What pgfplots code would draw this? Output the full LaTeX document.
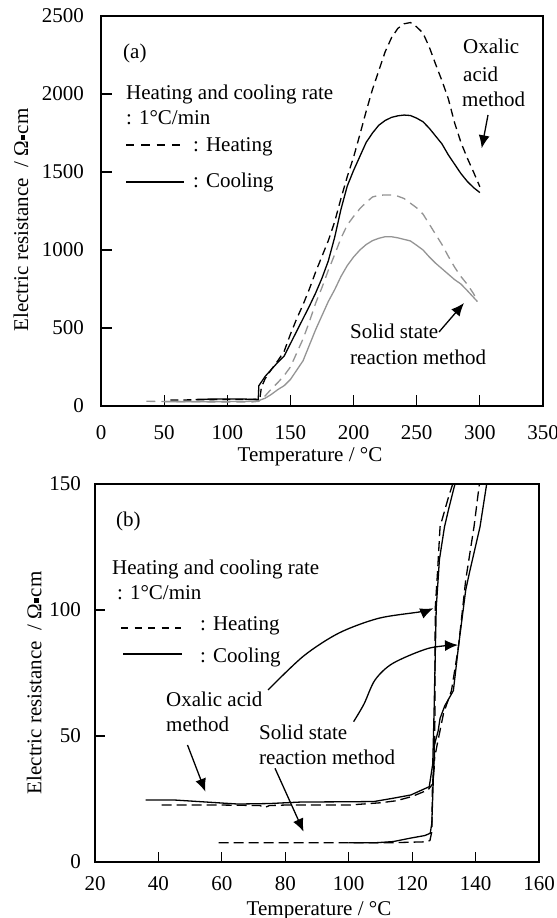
\documentclass[border=0pt]{standalone}
\usepackage{fontspec}
\setmainfont{Liberation Serif}
\usepackage{pgfplots}
\pgfplotsset{compat=1.18}
\usetikzlibrary{arrows.meta}

\definecolor{curvegray}{gray}{0.58}

\pgfplotsset{
  panel/.style={
    scale only axis,
    anchor=south west,
    axis line style={line width=1.2bp},
    tick style={line width=1.1bp, black},
    tick align=inside,
    tick pos=left,
    /pgf/number format/assume math mode=true,
    /pgf/number format/1000 sep={},
    yticklabel style={anchor=east, inner sep=0pt},
    xticklabel style={anchor=base, inner sep=0pt},
  },
  heat/.style={line width=1.3bp, dash pattern=on 8bp off 5bp},
  cool/.style={line width=1.3bp},
}

\newcommand{\ohmcm}{Ω\hspace{0.05em}\raisebox{0.28ex}{\rule{0.22em}{0.22em}}\hspace{0.05em}cm}
\newcommand{\ylab}{Electric resistance \ / \ohmcm}
\tikzset{
  note/.style={anchor=base west, inner sep=0pt},
  pointer/.style={line width=1.3bp, -{Latex[length=13bp,width=11bp]}},
}

\begin{document}
\fontsize{21bp}{25bp}\selectfont
\begin{tikzpicture}
\useasboundingbox (0,0) rectangle (557bp,918bp);

% ---------- (a) ----------
\begin{axis}[panel,
  at={(101bp,512bp)}, width=442bp, height=390bp,
  xmin=0, xmax=350, ymin=0, ymax=2500,
  xtick={0,50,...,350}, ytick={0,500,...,2500},
  major tick length=11bp,
  xticklabel style={yshift=-34bp},
  yticklabel style={xshift=-17bp},
  xlabel={Temperature / °C},
  xlabel style={at={(axis description cs:0.5,0)}, anchor=base, yshift=-56bp, xshift=-12bp},
  ylabel={\ylab},
  ylabel style={at={(axis description cs:-0.181,0.477)}, anchor=center},
]
% solid state, heating
\addplot[heat, curvegray, dash pattern=on 9bp off 6bp] coordinates {
  (36,30) (60,28) (80,27) (100,25) (120,26) (125,30) (130,65) (135,110)
  (140,150) (145,195) (150,250) (155,340) (160,430) (165,540) (170,660)
  (175,760) (180,870) (185,970) (190,1075) (195,1160) (200,1215) (205,1265)
  (210,1305) (215,1340) (220,1350) (225,1353) (230,1353) (235,1345) (240,1330)
  (245,1300) (250,1270) (255,1230) (260,1165) (265,1100) (270,1035) (275,960)
  (280,890) (285,830) (290,780) (295,720) (298,670)
};
% solid state, cooling
\addplot[cool, curvegray] coordinates {
  (50,28) (80,28) (100,28) (120,30) (125,35) (130,50) (135,75) (140,105)
  (145,130) (150,170) (155,230) (160,290) (165,390) (170,490) (175,580)
  (180,670) (185,745) (190,830) (195,900) (200,955) (205,1000) (210,1035)
  (215,1060) (220,1075) (225,1085) (230,1085) (235,1078) (240,1068) (245,1058)
  (250,1030) (255,1000) (260,955) (265,915) (270,880) (275,845) (280,810)
  (285,782) (290,740) (298,670)
};
% oxalic acid, heating
\addplot[heat, black] coordinates {
  (55,38) (80,40) (100,42) (120,42) (125,44) (126,60) (127,120) (130,175)
  (135,235) (140,290) (145,350) (150,460) (155,560) (160,650) (165,750)
  (170,860) (175,960) (180,1060) (185,1180) (190,1330) (195,1470) (200,1595)
  (205,1740) (210,1890) (215,2030) (220,2150) (225,2270) (230,2360) (235,2420)
  (240,2450) (245,2458) (250,2430) (255,2390) (260,2300) (265,2190) (270,2085)
  (275,1970) (280,1815) (285,1690) (290,1590) (295,1500) (300,1405)
};
% oxalic acid, cooling
\addplot[cool, black] coordinates {
  (75,42) (90,45) (110,45) (124.5,42) (125,130) (130,190) (135,235) (140,280)
  (145,320) (150,400) (155,480) (160,560) (165,640) (170,725) (175,820)
  (180,930) (185,1080) (190,1260) (195,1410) (200,1510) (205,1600) (210,1690)
  (215,1750) (220,1800) (225,1830) (230,1850) (235,1860) (240,1865) (245,1862)
  (250,1845) (255,1822) (260,1780) (265,1730) (270,1680) (275,1610) (280,1550)
  (285,1490) (290,1440) (295,1400) (300,1368)
};
\end{axis}

\node[note] at (123bp,859bp) {(a)};
\node[note] at (126bp,818bp) {Heating and cooling rate};
\node[note] at (126bp,793bp) {: 1°C/min};
\draw[line width=1.3bp, dash pattern=on 8.3bp off 7bp] (126bp,773bp) -- (184bp,773bp);
\node[note] at (193bp,766bp) {: Heating};
\draw[line width=1.3bp] (126bp,736bp) -- (184bp,736bp);
\node[note] at (193bp,730bp) {: Cooling};
\node[note] at (463bp,864bp) {Oxalic};
\node[note] at (463bp,836bp) {acid};
\node[note] at (462bp,811bp) {method};
\draw[pointer] (488bp,803bp) -- (481.7bp,769.7bp);
\node[note] at (350bp,579bp) {Solid state};
\node[note] at (350bp,553bp) {reaction method};
\draw[pointer] (439bp,586bp) -- (464bp,615bp);

% ---------- (b) ----------
\begin{axis}[panel,
  at={(95bp,56bp)}, width=444bp, height=378bp,
  xmin=20, xmax=160, ymin=0, ymax=150,
  xtick={20,40,...,160}, ytick={0,50,100,150},
  major tick length=9.5bp,
  xticklabel style={yshift=-28bp},
  yticklabel style={xshift=-14bp},
  xlabel={Temperature / °C},
  xlabel style={at={(axis description cs:0.5,0)}, anchor=base, yshift=-53bp, xshift=2bp},
  ylabel={\ylab},
  ylabel style={at={(axis description cs:-0.137,0.474)}, anchor=center},
]
% oxalic acid, heating
\addplot[heat, black, dash pattern=on 10bp off 5bp] coordinates {
  (41,22.6) (50,22.6) (60,22.6) (72,22.4) (73.5,21.6) (75,22.4) (80,22.6)
  (100,22.6) (110,23.5) (115,24.3) (120,26) (125,28.6) (126.5,31) (127.0,38)
  (127.2,60) (127.2,80) (127.3,101) (128.0,115) (128.8,133) (131.5,145)
  (132.8,150)
};
% oxalic acid, cooling
\addplot[cool, black] coordinates {
  (36,24.6) (45,24.6) (55,23.8) (65,23) (75,23.2) (85,23.8) (100,23.9)
  (108,24) (114,25.3) (119.6,26.6) (125.4,29.9) (126.5,39) (126.9,59)
  (127.6,101) (128.6,120) (130.2,133) (131.5,140) (133.5,150)
};
% solid state, heating
\addplot[heat, black, dash pattern=on 10bp off 5bp] coordinates {
  (59,7.6) (80,7.6) (100,7.6) (115,7.7) (124,8.0) (125.6,8.5) (126.2,12)
  (126.4,30) (126.9,40) (127.8,46) (129.9,59) (132.4,68) (134.6,85.4)
  (136.9,112) (139.5,133) (141.2,150)
};
% solid state, cooling
\addplot[cool, black] coordinates {
  (100,7.6) (108,7.6) (114,8.1) (119.6,9.5) (124,10.5) (125.7,11.4)
  (126.2,15.3) (126.6,30) (127.0,46.4) (128.2,52) (128.8,57) (130.3,62)
  (133,68) (134.6,85.4) (136.9,108) (138.1,115) (141.4,133) (143.5,150)
};
\end{axis}

\node[note] at (116bp,391bp) {(b)};
\node[note] at (112bp,343bp) {Heating and cooling rate};
\node[note] at (117bp,318bp) {: 1°C/min};
\draw[line width=1.3bp, dash pattern=on 7bp off 6.5bp] (121bp,290bp) -- (181bp,290bp);
\node[note] at (200bp,287bp) {: Heating};
\draw[line width=1.3bp] (123bp,264bp) -- (182bp,264bp);
\node[note] at (200bp,255bp) {: Cooling};
\node[note] at (166bp,211bp) {Oxalic acid};
\node[note] at (166bp,186bp) {method};
\node[note] at (259bp,178bp) {Solid state};
\node[note] at (259bp,153bp) {reaction method};
\draw[pointer] plot[smooth] coordinates {
  (268bp,228bp) (303.6bp,262bp) (339bp,285bp) (378.6bp,299.7bp)
  (421bp,306.3bp) (433.3bp,309.7bp)};
\draw[pointer] plot[smooth] coordinates {
  (353.6bp,196.3bp) (364bp,214bp) (375bp,238bp) (392.9bp,254.7bp)
  (428.6bp,269.7bp) (458bp,273bp)};
\draw[pointer] (187.5bp,173bp) -- (205.4bp,126.3bp);
\draw[pointer] (275bp,149.7bp) -- (303.6bp,86.3bp);
\end{tikzpicture}
\end{document}
